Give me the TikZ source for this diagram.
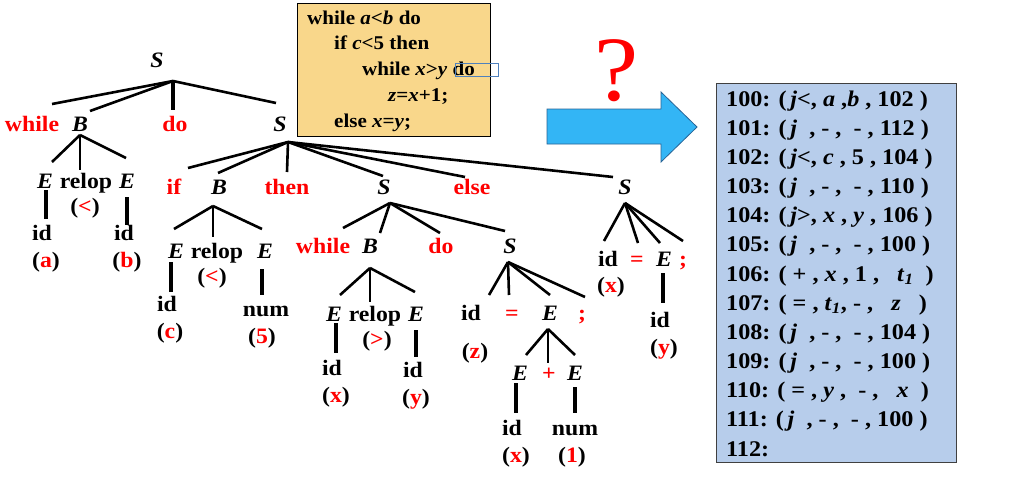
\documentclass[tikz,border=0pt]{standalone}
\usepackage{fontspec}
\setmainfont{Liberation Serif}[FakeStretch=1.08]
\definecolor{codefill}{RGB}{249,215,139}
\definecolor{quadfill}{RGB}{183,205,235}
\definecolor{arrowfill}{RGB}{51,181,245}
\definecolor{arrowdraw}{RGB}{40,100,150}
\definecolor{markblue}{RGB}{79,129,189}
\definecolor{kwred}{RGB}{255,0,0}
\newcommand\trf{\fontsize{22}{26}\selectfont\bfseries}
\newcommand\pr[1]{(\textcolor{kwred}{#1})}
\newcommand\tone{\textit{t}\textsubscript{\textit{1}}}
\tikzset{
  tx/.style={inner sep=0pt, text height=15pt, text depth=0pt, font=\trf},
  nt/.style={tx, font=\trf\itshape},
  kw/.style={tx, text=kwred},
  br/.style={line width=2.6pt},
  bar/.style={line width=4.6pt},
  codeline/.style={anchor=base west, inner sep=0pt, font=\fontsize{19.5}{22}\selectfont\bfseries},
  quadline/.style={anchor=base west, inner sep=0pt, font=\fontsize{22.4}{24}\selectfont\bfseries},
}
\begin{document}
\begin{tikzpicture}[x=1pt,y=-1pt]
\path[use as bounding box, fill=white] (0,0) rectangle (1011,485);

% ---------- code box ----------
\node[draw=black, line width=1.2pt, fill=codefill, minimum width=193pt, minimum height=133pt, anchor=north west, inner sep=0pt] (code) at (297,3) {};
\node[codeline] (cl1) at (307,24) {while \textit{a}<\textit{b} do};
\node[codeline] (cl2) at (334,49) {if \textit{c}<5 then};
\node[codeline] (cl3) at (362,75) {while \textit{x}>\textit{y} do};
\node[codeline] (cl4) at (388,101) {\textit{z}=\textit{x}+1;};
\node[codeline] (cl5) at (334,127) {else \textit{x}=\textit{y};};
\node[draw=markblue, line width=0.8pt, minimum width=43pt, minimum height=13pt, inner sep=0pt, anchor=north west] (mark) at (455,63) {};

% ---------- question mark and arrow ----------
\node[inner sep=0pt, text=kwred, font=\fontsize{92}{92}\selectfont] (qm) at (617,71) {?};
\draw[fill=arrowfill, draw=arrowdraw, line width=0.8pt]
  (547,109) -- (661,109) -- (661,92) -- (697,127) -- (661,162) -- (661,144) -- (547,144) -- cycle;

% ---------- quadruple box ----------
\node[draw=black!75, line width=1.2pt, fill=quadfill, minimum width=240pt, minimum height=379pt, anchor=north west, inner sep=0pt] (quad) at (716,83) {};
\node[quadline] (q0) at (726,106.0) {100: (\,\textit{j}<, \textit{a} ,\textit{b} , 102 )};
\node[quadline] (q1) at (726,135.2) {101: (\,\textit{j}\ \ , - ,\ \ - , 112 )};
\node[quadline] (q2) at (726,164.3) {102: (\,\textit{j}<, \textit{c} , 5 , 104 )};
\node[quadline] (q3) at (726,193.5) {103: (\,\textit{j}\ \ , - ,\ \ - , 110 )};
\node[quadline] (q4) at (726,222.7) {104: (\,\textit{j}>, \textit{x} , \textit{y} , 106 )};
\node[quadline] (q5) at (726,251.8) {105: (\,\textit{j}\ \ , - ,\ \ - , 100 )};
\node[quadline] (q6) at (726,281.0) {106: ( + , \textit{x} , 1 ,\ \ \ \tone\ \ )};
\node[quadline] (q7) at (726,310.2) {107: ( = , \tone , - ,\ \ \ \textit{z}\ \ \ )};
\node[quadline] (q8) at (726,339.3) {108: (\,\textit{j}\ \ , - ,\ \ - , 104 )};
\node[quadline] (q9) at (726,368.5) {109: (\,\textit{j}\ \ , - ,\ \ - , 100 )};
\node[quadline] (q10) at (726,397.7) {110: ( = , \textit{y} ,\ \ - ,\ \ \ \textit{x}\ \ )};
\node[quadline] (q11) at (726,426.8) {111: (\,\textit{j}\ \ , - ,\ \ - , 100 )};
\node[quadline] (q12) at (726,456.0) {112:};

% ---------- tree: root ----------
\node[nt] (S0) at (157,60) {S};
\coordinate (S0a) at (173,81);
\node[kw] (w0) at (32,124) {while};
\node[nt] (B0) at (80,124) {B};
\node[kw] (d0) at (175,124) {do};
\node[nt] (S1) at (280,124) {S};
\coordinate (e01) at (52,104);
\coordinate (e02) at (90,111);
\coordinate (e03) at (173,110);
\coordinate (e04) at (276,103);
\draw[br] (S0a) -- (e01);
\draw[br] (S0a) -- (e02);
\draw[line width=3.6pt] (S0a) -- (e03);
\draw[br] (S0a) -- (e04);

% B0 subtree
\coordinate (B0a) at (80,135);
\coordinate (e11) at (52,162);
\coordinate (e12) at (80,170);
\coordinate (e13) at (126,158);
\draw[br] (B0a) -- (e11);
\draw[br] (B0a) -- (e12);
\draw[br] (B0a) -- (e13);
\node[nt] (E1) at (45,181) {E};
\node[tx] (r1) at (86,181) {relop};
\node[nt] (E2) at (127,181) {E};
\node[tx] (p1) at (85,206) {\pr{<}};
\coordinate (b1t) at (46,190); \coordinate (b1b) at (46,219);
\coordinate (b2t) at (127,197); \coordinate (b2b) at (127,225);
\draw[bar] (b1t) -- (b1b);
\draw[bar] (b2t) -- (b2b);
\node[tx] (id1) at (42,233) {id};
\node[tx] (pa) at (46,260) {\pr{a}};
\node[tx] (id2) at (124,233) {id};
\node[tx] (pb) at (127,260) {\pr{b}};

% S1 subtree
\coordinate (S1a) at (288,142);
\node[kw] (if1) at (174,187) {if};
\node[nt] (B1) at (219,187) {B};
\node[kw] (th1) at (287,187) {then};
\node[nt] (S2) at (384,187) {S};
\node[kw] (el1) at (472,187) {else};
\node[nt] (S3) at (625,187) {S};
\coordinate (e21) at (188,168);
\coordinate (e22) at (218,173);
\coordinate (e23) at (287,172);
\coordinate (e24) at (383,176);
\coordinate (e25) at (465,177);
\coordinate (e26) at (613,177);
\foreach \e in {e21,e22,e23,e24,e25,e26} \draw[br] (S1a) -- (\e);

% B1 subtree
\coordinate (B1a) at (213,206);
\coordinate (e31) at (174,229);
\coordinate (e32) at (213,237);
\coordinate (e33) at (262,229);
\foreach \e in {e31,e32,e33} \draw[br] (B1a) -- (\e);
\node[nt] (E3) at (176,251) {E};
\node[tx] (r2) at (217,251) {relop};
\node[nt] (E4) at (265,251) {E};
\node[tx] (p2) at (212,276) {\pr{<}};
\coordinate (b3t) at (171,262); \coordinate (b3b) at (171,292);
\coordinate (b4t) at (262,269); \coordinate (b4b) at (262,295);
\draw[bar] (b3t) -- (b3b);
\draw[bar] (b4t) -- (b4b);
\node[tx] (id3) at (167,304) {id};
\node[tx] (pc) at (170,331) {\pr{c}};
\node[tx] (num1) at (266,309) {num};
\node[tx] (p5) at (262,336) {\pr{5}};

% S2 subtree
\coordinate (S2a) at (390,203);
\node[kw] (w2) at (323,246) {while};
\node[nt] (B2) at (370,246) {B};
\node[kw] (d2) at (441,246) {do};
\node[nt] (S4) at (510,246) {S};
\coordinate (e41) at (343,228);
\coordinate (e42) at (380,233);
\coordinate (e43) at (440,233);
\coordinate (e44) at (505,231);
\foreach \e in {e41,e42,e43,e44} \draw[br] (S2a) -- (\e);

% B2 subtree
\coordinate (B2a) at (370,268);
\coordinate (e51) at (340,295);
\coordinate (e52) at (370,302);
\coordinate (e53) at (415,292);
\foreach \e in {e51,e52,e53} \draw[br] (B2a) -- (\e);
\node[nt] (E5) at (334,314) {E};
\node[tx] (r3) at (375,314) {relop};
\node[nt] (E6) at (416,314) {E};
\node[tx] (p3) at (377,339) {\pr{>}};
\coordinate (b5t) at (336,323); \coordinate (b5b) at (336,353);
\coordinate (b6t) at (416,330); \coordinate (b6b) at (416,357);
\draw[bar] (b5t) -- (b5b);
\draw[bar] (b6t) -- (b6b);
\node[tx] (id5) at (332,368) {id};
\node[tx] (px1) at (336,395) {\pr{x}};
\node[tx] (id6) at (413,370) {id};
\node[tx] (py1) at (416,397) {\pr{y}};

% S4 subtree
\coordinate (S4a) at (508,262);
\coordinate (e61) at (489,295);
\coordinate (e62) at (509,295);
\coordinate (e63) at (550,295);
\coordinate (e64) at (585,297);
\foreach \e in {e61,e62,e63,e64} \draw[br] (S4a) -- (\e);
\node[tx] (id7) at (471,313) {id};
\node[kw] (eq1) at (512,313) {=};
\node[nt] (E7) at (550,313) {E};
\node[kw] (sc1) at (582,313) {;};
\node[tx] (pz) at (475,351) {\pr{z}};
\coordinate (E7a) at (548,329);
\coordinate (e71) at (526,355);
\coordinate (e72) at (548,363);
\coordinate (e73) at (575,355);
\draw[br] (E7a) -- (e71);
\draw[br] (E7a) -- (e72);
\draw[br] (E7a) -- (e73);
\node[nt] (E8) at (520,373) {E};
\node[kw] (plus) at (549,373) {+};
\node[nt] (E9) at (575,373) {E};
\coordinate (b7t) at (516,383); \coordinate (b7b) at (516,413);
\coordinate (b8t) at (575,387); \coordinate (b8b) at (575,413);
\draw[bar] (b7t) -- (b7b);
\draw[bar] (b8t) -- (b8b);
\node[tx] (id8) at (512,428) {id};
\node[tx] (px2) at (516,455) {\pr{x}};
\node[tx] (num2) at (575,428) {num};
\node[tx] (p1b) at (572,455) {\pr{1}};

% S3 subtree
\coordinate (S3a) at (625,203);
\coordinate (e81) at (604,241);
\coordinate (e82) at (638,243);
\coordinate (e83) at (660,243);
\coordinate (e84) at (683,241);
\foreach \e in {e81,e82,e83,e84} \draw[br] (S3a) -- (\e);
\node[tx] (id9) at (608,259) {id};
\node[kw] (eq2) at (637,259) {=};
\node[nt] (E10) at (664,259) {E};
\node[kw] (sc2) at (683,259) {;};
\node[tx] (px3) at (611,285) {\pr{x}};
\coordinate (b9t) at (663,273); \coordinate (b9b) at (663,303);
\draw[bar] (b9t) -- (b9b);
\node[tx] (id10) at (660,320) {id};
\node[tx] (py2) at (664,347) {\pr{y}};
\end{tikzpicture}
\end{document}
